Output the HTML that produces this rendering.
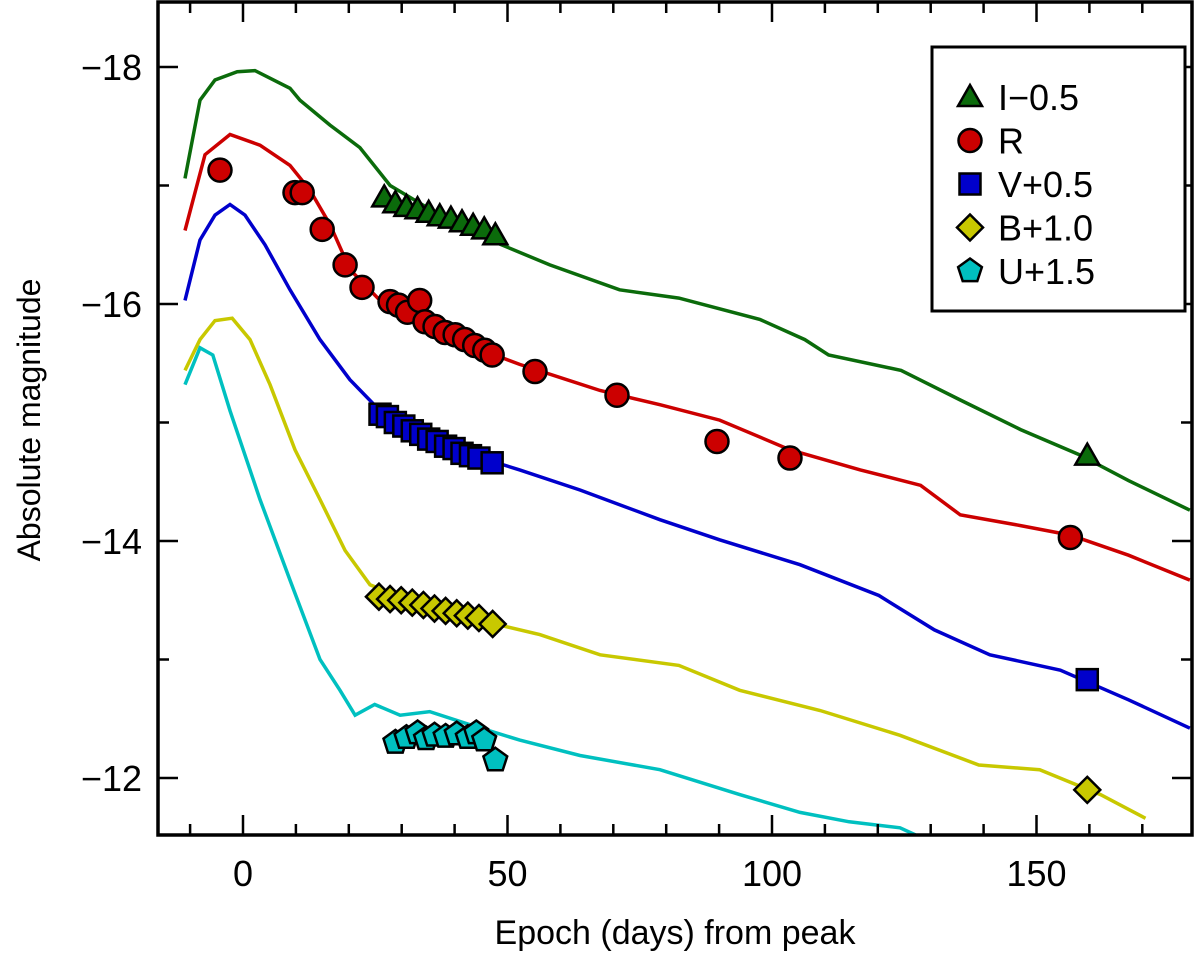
<!DOCTYPE html>
<html><head><meta charset="utf-8"><style>
body{margin:0;background:#fff;}
svg text{font-family:"Liberation Sans",sans-serif;fill:#000;}
</style></head><body>
<svg id="chart" width="1200" height="956" xmlns="http://www.w3.org/2000/svg">
<g id="lines"></g>
<g id="marks"></g>
<g id="axes"></g>
<g id="legend"></g>
</svg>
<script>
const xTicks=[0,50,100,150];
const yTicks=[-18,-16,-14,-12];
const lineI=[[-10.96,-17.06],[-8.13,-17.72],[-5.29,-17.89],[-1.09,-17.96],[2.27,-17.97],[8.88,-17.82],[10.77,-17.72],[16.44,-17.51],[22.1,-17.32],[27.8,-17.0],[37.2,-16.75],[46.7,-16.54],[58.0,-16.33],[71.2,-16.12],[82.4,-16.05],[97.7,-15.87],[106.2,-15.7],[110.7,-15.57],[124.4,-15.44],[135.6,-15.19],[147.0,-14.94],[158.0,-14.73],[167.4,-14.51],[179.0,-14.26]];
const lineR=[[-10.96,-16.62],[-7.19,-17.26],[-2.46,-17.43],[3.21,-17.34],[8.88,-17.17],[12.66,-16.96],[16.44,-16.67],[20.22,-16.29],[25.9,-16.03],[33.4,-15.82],[42.9,-15.65],[52.3,-15.49],[67.5,-15.27],[78.8,-15.15],[90.1,-15.02],[103.4,-14.77],[116.7,-14.6],[128.1,-14.47],[135.6,-14.22],[147.0,-14.13],[156.4,-14.05],[167.4,-13.88],[179.0,-13.67]];
const lineV=[[-10.96,-16.03],[-8.13,-16.54],[-5.29,-16.75],[-2.46,-16.84],[0.38,-16.75],[4.16,-16.5],[8.88,-16.12],[14.55,-15.7],[20.22,-15.36],[25.9,-15.1],[33.4,-14.9],[42.9,-14.73],[52.3,-14.6],[63.7,-14.43],[78.8,-14.18],[90.1,-14.01],[105.3,-13.8],[120.2,-13.54],[130.7,-13.25],[141.2,-13.04],[154.5,-12.91],[167.4,-12.66],[179.0,-12.42]];
const lineB=[[-10.96,-15.44],[-8.13,-15.7],[-5.29,-15.86],[-2.04,-15.88],[1.32,-15.7],[5.1,-15.32],[9.83,-14.77],[14.55,-14.35],[19.3,-13.92],[24.0,-13.63],[33.4,-13.46],[44.8,-13.33],[56.1,-13.21],[67.5,-13.04],[82.4,-12.95],[93.9,-12.74],[109.1,-12.57],[124.2,-12.36],[139.1,-12.11],[150.6,-12.07],[162.1,-11.86],[170.6,-11.66]];
const lineU=[[-10.96,-15.32],[-8.13,-15.63],[-5.7,-15.57],[-2.46,-15.1],[3.21,-14.35],[8.88,-13.67],[14.55,-13.0],[18.33,-12.74],[21.2,-12.53],[24.9,-12.62],[29.7,-12.53],[35.3,-12.56],[42.9,-12.45],[52.3,-12.32],[63.7,-12.19],[78.8,-12.07],[93.9,-11.86],[105.3,-11.71],[114.6,-11.63],[124.2,-11.58],[127.1,-11.52]];
const ptsI=[[26.7,-16.9],[28.8,-16.85],[30.9,-16.82],[33.0,-16.8],[35.1,-16.77],[37.2,-16.74],[39.3,-16.72],[41.4,-16.69],[43.5,-16.66],[45.6,-16.63],[47.7,-16.58],[159.6,-14.72]];
const ptsR=[[-4.35,-17.13],[9.83,-16.94],[11.19,-16.94],[14.97,-16.63],[19.3,-16.33],[22.5,-16.14],[27.8,-16.02],[29.4,-15.99],[31.1,-15.93],[33.4,-16.03],[34.4,-15.85],[36.3,-15.81],[38.2,-15.76],[40.1,-15.74],[41.9,-15.70],[43.8,-15.65],[45.7,-15.61],[47.1,-15.57],[55.2,-15.43],[70.7,-15.23],[89.6,-14.84],[103.4,-14.70],[156.4,-14.03]];
const ptsV=[[25.9,-15.07],[27.3,-15.05],[28.8,-15.0],[30.4,-14.97],[32.0,-14.93],[33.6,-14.9],[35.1,-14.86],[36.7,-14.84],[38.3,-14.8],[39.9,-14.78],[41.4,-14.74],[43.0,-14.72],[44.6,-14.7],[47.1,-14.66],[159.6,-12.83]];
const ptsB=[[25.7,-13.53],[27.8,-13.51],[29.9,-13.5],[32.0,-13.48],[34.1,-13.46],[36.2,-13.43],[38.3,-13.41],[40.4,-13.39],[42.5,-13.37],[44.6,-13.35],[47.2,-13.30],[159.6,-11.9]];
const ptsU=[[28.8,-12.3],[30.9,-12.34],[33.0,-12.38],[34.6,-12.33],[36.2,-12.36],[38.3,-12.35],[40.4,-12.37],[42.5,-12.34],[44.1,-12.38],[45.6,-12.32],[47.7,-12.15]];
const L=158,R=1192,T=2,B=835;
const X=d=>243+d*5.29;
const Y=m=>67+(m+18)*118.5;
const NS='http://www.w3.org/2000/svg';
function mk(tag,parent,attrs){const e=document.createElementNS(NS,tag);for(const k in attrs)e.setAttribute(k,attrs[k]);parent.appendChild(e);return e;}
const gl=document.getElementById('lines'),gm=document.getElementById('marks'),ga=document.getElementById('axes'),gg=document.getElementById('legend');
const clip=mk('clipPath',document.getElementById('chart'),{id:'pc'});mk('rect',clip,{x:L,y:T,width:R-L,height:B-T});
gl.setAttribute('clip-path','url(#pc)');
const series=[['i',lineI,ptsI,'#0b6b0b','tri'],['r',lineR,ptsR,'#cc0000','circ'],['v',lineV,ptsV,'#0000cc','sq'],['b',lineB,ptsB,'#c8c800','dia'],['u',lineU,ptsU,'#00c0c0','pent']];
function marker(parent,shape,cx,cy,col){
 let e;
 if(shape==='circ')e=mk('circle',parent,{cx:cx,cy:cy,r:11.5});
 else if(shape==='sq')e=mk('rect',parent,{x:cx-10.5,y:cy-10.5,width:21,height:21});
 else if(shape==='tri')e=mk('polygon',parent,{points:`${cx},${cy-12} ${cx+12},${cy+9} ${cx-12},${cy+9}`});
 else if(shape==='dia')e=mk('polygon',parent,{points:`${cx},${cy-13} ${cx+13},${cy} ${cx},${cy+13} ${cx-13},${cy}`});
 else {let p=[];for(let k=0;k<5;k++){const a=-Math.PI/2+k*2*Math.PI/5;p.push((cx+12.5*Math.cos(a)).toFixed(1)+','+(cy+12.5*Math.sin(a)).toFixed(1));}e=mk('polygon',parent,{points:p.join(' ')});}
 e.setAttribute('fill',col);e.setAttribute('stroke','#000');e.setAttribute('stroke-width','2.5');
 return e;
}
series.forEach(s=>{
 const pl=mk('polyline',gl,{points:s[1].map(p=>X(p[0]).toFixed(1)+','+Y(p[1]).toFixed(1)).join(' '),fill:'none',stroke:s[3],'stroke-width':3.5});
 
 
 s[2].forEach(p=>{
  const m=marker(gm,s[4],X(p[0]),Y(p[1]),s[3]);
  
  
 });
});
mk('rect',ga,{x:L,y:T,width:R-L,height:B-T,fill:'none',stroke:'#000','stroke-width':3.5});
for(let d=-10;d<=170;d+=10){const maj=d%50===0,len=maj?20:11;
 mk('line',ga,{x1:X(d),x2:X(d),y1:B,y2:B-len,stroke:'#000','stroke-width':2.5});
 mk('line',ga,{x1:X(d),x2:X(d),y1:T,y2:T+len,stroke:'#000','stroke-width':2.5});}
for(let m=-18;m<=-12;m+=1){const maj=m%2===0,len=maj?20:11;
 mk('line',ga,{x1:L,x2:L+len,y1:Y(m),y2:Y(m),stroke:'#000','stroke-width':2.5});
 mk('line',ga,{x1:R,x2:R-len,y1:Y(m),y2:Y(m),stroke:'#000','stroke-width':2.5});}
xTicks.forEach(t=>{const e=mk('text',ga,{x:X(t),y:886,'text-anchor':'middle','font-size':36});e.textContent=t;
 
 });
yTicks.forEach(t=>{const e=mk('text',ga,{x:142,y:Y(t)+13,'text-anchor':'end','font-size':36});e.textContent='\u2212'+Math.abs(t);
 
 });
const xt=mk('text',ga,{x:675,y:944,'text-anchor':'middle','font-size':34});xt.textContent='Epoch (days) from peak';


const yt=mk('text',ga,{x:40,y:420,'text-anchor':'middle','font-size':32,transform:'rotate(-90 40 420)'});yt.textContent='Absolute magnitude';


mk('rect',gg,{x:932,y:47,width:253,height:264,fill:'#fff',stroke:'#000','stroke-width':3});
const labs=['I\u22120.5','R','V+0.5','B+1.0','U+1.5'];
series.forEach((s,i)=>{const y=97+i*43.5;
 const m=marker(gg,s[4],970,y,s[3]);
 
 
 const t=mk('text',gg,{x:998,y:y+13,'font-size':36});t.textContent=labs[i];
 
 });
</script>
</body></html>
